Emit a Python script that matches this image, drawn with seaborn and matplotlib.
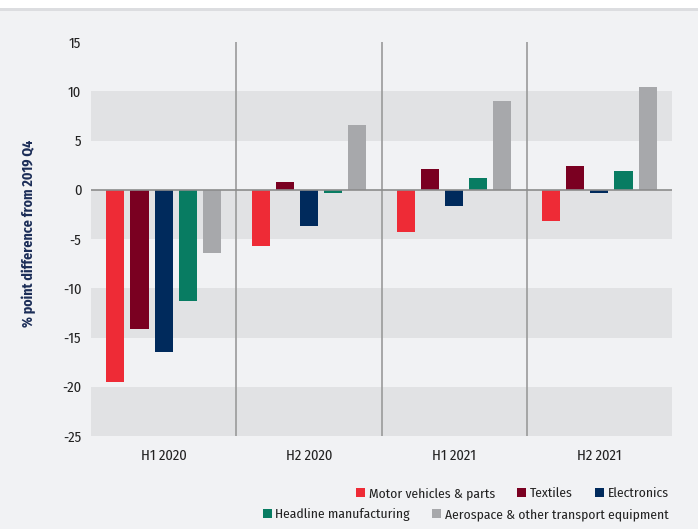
import pandas as pd
import seaborn as sns
import matplotlib.pyplot as plt
from matplotlib import font_manager
from matplotlib.patches import Rectangle

# Chart data
periods = ["H1 2020", "H2 2020", "H1 2021", "H2 2021"]
sectors = ["Motor vehicles & parts", "Textiles", "Electronics",
           "Headline manufacturing", "Aerospace & other transport equipment"]
motor = [-19.5, -5.7, -4.3, -3.15]
textiles = [-14.1, 0.8, 2.15, 2.45]
electronics = [-16.5, -3.65, -1.7, -0.3]
headline = [-11.3, -0.3, 1.15, 1.95]
aerospace = [-6.4, 6.6, 9.05, 10.45]
sector_colors = ["#ee2b36", "#7a0021", "#002a5c", "#087c62", "#a7a8ab"]

series = [motor, textiles, electronics, headline, aerospace]
rows = []
for name, vals in zip(sectors, series):
    for p, v in zip(periods, vals):
        rows.append({"period": p, "sector": name, "value": v})
df = pd.DataFrame(rows)

bg = "#f1f2f4"
band = "#e1e2e4"

# Pick a condensed face that is installed
installed = set(f.name for f in font_manager.fontManager.ttflist)
main_font = "DejaVu Sans"
for cand in ["Fira Sans Condensed", "PT Sans Narrow", "Barlow Semi Condensed",
             "Asap Condensed", "Encode Sans Condensed"]:
    if cand in installed:
        main_font = cand
        break

sns.set_style("white")
plt.rcParams["font.family"] = [main_font, "DejaVu Sans"]
plt.rcParams["axes.unicode_minus"] = False

fig = plt.figure(figsize=(6.98, 5.29), dpi=100, facecolor=bg)
# White strip and rule at the top
fig.patches.append(Rectangle((0, 1 - 8 / 529), 1, 8 / 529, transform=fig.transFigure,
                             facecolor="white", edgecolor="none", zorder=0))
fig.patches.append(Rectangle((0, 1 - 11 / 529), 1, 3 / 529, transform=fig.transFigure,
                             facecolor="#dcdde0", edgecolor="none", zorder=0))

ax = fig.add_axes([91 / 698, 1 - 436 / 529, (672 - 91) / 698, (436 - 42) / 529])
ax.set_facecolor(bg)

# Alternating grey bands
for lo, hi in [(5, 10), (-5, 0), (-15, -10), (-25, -20)]:
    ax.axhspan(lo, hi, color=band, zorder=0, lw=0)

sns.barplot(data=df, x="period", y="value", hue="sector", order=periods,
            hue_order=sectors, palette=sector_colors, width=0.83, gap=0.25,
            saturation=1, linewidth=0, ax=ax, legend=False, zorder=3)

ax.axhline(0, color="#8c8c8c", lw=1.2, zorder=4)
for xs in [0.5, 1.5, 2.5]:
    ax.axvline(xs, color="#9a9a9a", lw=1.2, zorder=2)

ax.set_xlim(-0.5, 3.5)
ax.set_ylim(-25, 15)
ax.set_yticks(range(-25, 20, 5))
for s in ax.spines.values():
    s.set_visible(False)

ax.tick_params(axis="y", direction="in", length=7, width=1, color="#8c8c8c",
               labelsize=10.5, labelcolor="#222222", pad=7)
ax.tick_params(axis="x", length=0, labelsize=10.5, labelcolor="#222222", pad=9)
ax.set_xlabel("")
ax.set_ylabel("% point difference from 2019 Q4", color="#1b2d57",
              fontsize=10, fontweight="bold")
ax.yaxis.set_label_coords(-0.095, 0.515)

# Legend in two right-aligned rows
handles = [Rectangle((0, 0), 1, 1, facecolor=c, edgecolor="none") for c in sector_colors]
leg_kw = dict(frameon=False, fontsize=9.8, handlelength=0.7, handleheight=0.7,
              handletextpad=0.25, columnspacing=1.6, borderaxespad=0,
              loc="upper right", bbox_transform=fig.transFigure)
leg1 = fig.legend(handles[:3], sectors[:3], ncol=3,
                  bbox_to_anchor=(674 / 698, 1 - 482 / 529), **leg_kw)
leg2 = fig.legend(handles[3:], sectors[3:], ncol=2,
                  bbox_to_anchor=(674 / 698, 1 - 503 / 529), **leg_kw)
for lg in (leg1, leg2):
    for t in lg.get_texts():
        t.set_color("#222222")

fig.savefig("out.png", dpi=100, facecolor=bg)
